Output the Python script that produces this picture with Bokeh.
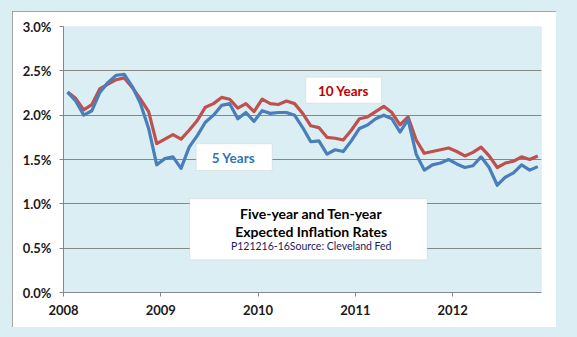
from bokeh.plotting import figure
from bokeh.layouts import column
from bokeh.models import (BoxAnnotation, Label, FixedTicker, PrintfTickFormatter,
                          Range1d)
from bokeh.embed import file_html
from bokeh.resources import INLINE

# ---- data ----
months = [f"{y}-{m:02d}" for y in range(2008, 2013) for m in range(1, 13)][:59]
five_year = [2.26, 2.16, 2.00, 2.05, 2.26, 2.37, 2.45, 2.46, 2.32, 2.13, 1.85, 1.44,
             1.51, 1.53, 1.40, 1.64, 1.77, 1.92, 2.00, 2.11, 2.13, 1.96, 2.03, 1.93,
             2.05, 2.02, 2.03, 2.03, 2.00, 1.86, 1.70, 1.71, 1.56, 1.61, 1.59, 1.71,
             1.85, 1.89, 1.96, 2.00, 1.96, 1.81, 1.95, 1.56, 1.38, 1.44, 1.46, 1.50,
             1.45, 1.41, 1.43, 1.53, 1.41, 1.21, 1.30, 1.35, 1.44, 1.38, 1.42]
ten_year = [2.26, 2.19, 2.06, 2.12, 2.30, 2.35, 2.40, 2.42, 2.31, 2.18, 2.04, 1.68,
            1.73, 1.78, 1.73, 1.83, 1.94, 2.09, 2.13, 2.20, 2.18, 2.08, 2.13, 2.04,
            2.18, 2.13, 2.12, 2.16, 2.13, 2.02, 1.88, 1.86, 1.75, 1.74, 1.72, 1.83,
            1.96, 1.98, 2.04, 2.10, 2.03, 1.89, 1.98, 1.72, 1.57, 1.59, 1.61, 1.63,
            1.59, 1.54, 1.58, 1.64, 1.54, 1.41, 1.46, 1.48, 1.53, 1.50, 1.54]
year_ticks = [2008, 2009, 2010, 2011, 2012]
y_ticks = [0.0, 0.5, 1.0, 1.5, 2.0, 2.5, 3.0]
title_lines = ["Five-year and Ten-year", "Expected Inflation Rates"]
source_text = "P121216-16Source: Cleveland Fed"

# month positions as decimal years (mid-month)
xs = [int(s[:4]) + (int(s[5:]) - 0.5) / 12 for s in months]

BG = "#dbeef3"
GRID = "#868686"
BLUE = "#4a7ebb"
RED = "#c0504d"
FONT = "Lato"

X0, X1 = 2008, 2012.913

p = figure(width=544, height=316, output_backend="svg", toolbar_location=None,
           x_range=Range1d(X0, X1), y_range=Range1d(0, 3),
           min_border_left=51, min_border_right=15, min_border_top=15,
           min_border_bottom=35, margin=(11, 21, 10, 12),
           styles={"outline": "1px solid #868686", "outline-offset": "-1px"})
p.background_fill_color = BG
p.border_fill_color = "white"
p.outline_line_color = None

# grid
p.xgrid.visible = False
p.ygrid.ticker = FixedTicker(ticks=y_ticks)
p.ygrid.grid_line_color = GRID
p.ygrid.grid_line_width = 1

# axes
p.yaxis.ticker = FixedTicker(ticks=y_ticks)
p.yaxis.formatter = PrintfTickFormatter(format="%.1f%%")
p.xaxis.ticker = FixedTicker(ticks=year_ticks)
for ax in (p.xaxis[0], p.yaxis[0]):
    ax.axis_line_color = GRID
    ax.major_tick_line_color = GRID
    ax.minor_tick_line_color = None
    ax.major_tick_in = 0
    ax.major_tick_out = 4
    ax.major_label_text_font = FONT
    ax.major_label_text_font_style = "bold"
    ax.major_label_text_font_size = "13px"
    ax.major_label_text_color = "#1a1a1a"
p.xaxis.major_label_standoff = 8
p.yaxis.major_label_standoff = 8

# series
p.line(xs, ten_year, line_color=RED, line_width=3.2, line_join="round")
p.line(xs, five_year, line_color=BLUE, line_width=3.2, line_join="round")

# label boxes
def box(l, r, b, t):
    p.add_layout(BoxAnnotation(left=l, right=r, bottom=b, top=t,
                               fill_color="white", fill_alpha=1.0,
                               line_color="#bfbfbf", line_width=1))

box(2010.490, 2011.268, 2.135, 2.428)
box(2009.364, 2010.145, 1.376, 1.677)
box(2009.298, 2011.738, 0.369, 1.057)

def lab(x, y, text, color, size, style="bold"):
    p.add_layout(Label(x=x, y=y, text=text, text_color=color,
                       text_font=FONT, text_font_size=size,
                       text_font_style=style, text_align="center",
                       text_baseline="middle"))

lab(2010.878, 2.278, "10 Years", "#c00000", "13.5px")
lab(2009.747, 1.522, "5 Years", "#2e74b5", "13.5px")
lab(2010.546, 0.894, title_lines[0], "#000000", "14px")
lab(2010.546, 0.691, title_lines[1], "#000000", "14px")
lab(2010.546, 0.522, source_text, "#1a1a5e", "10.5px", "normal")

layout = column(p, styles={"background-color": BG})

open("out.html", "w").write(file_html(layout, INLINE))
